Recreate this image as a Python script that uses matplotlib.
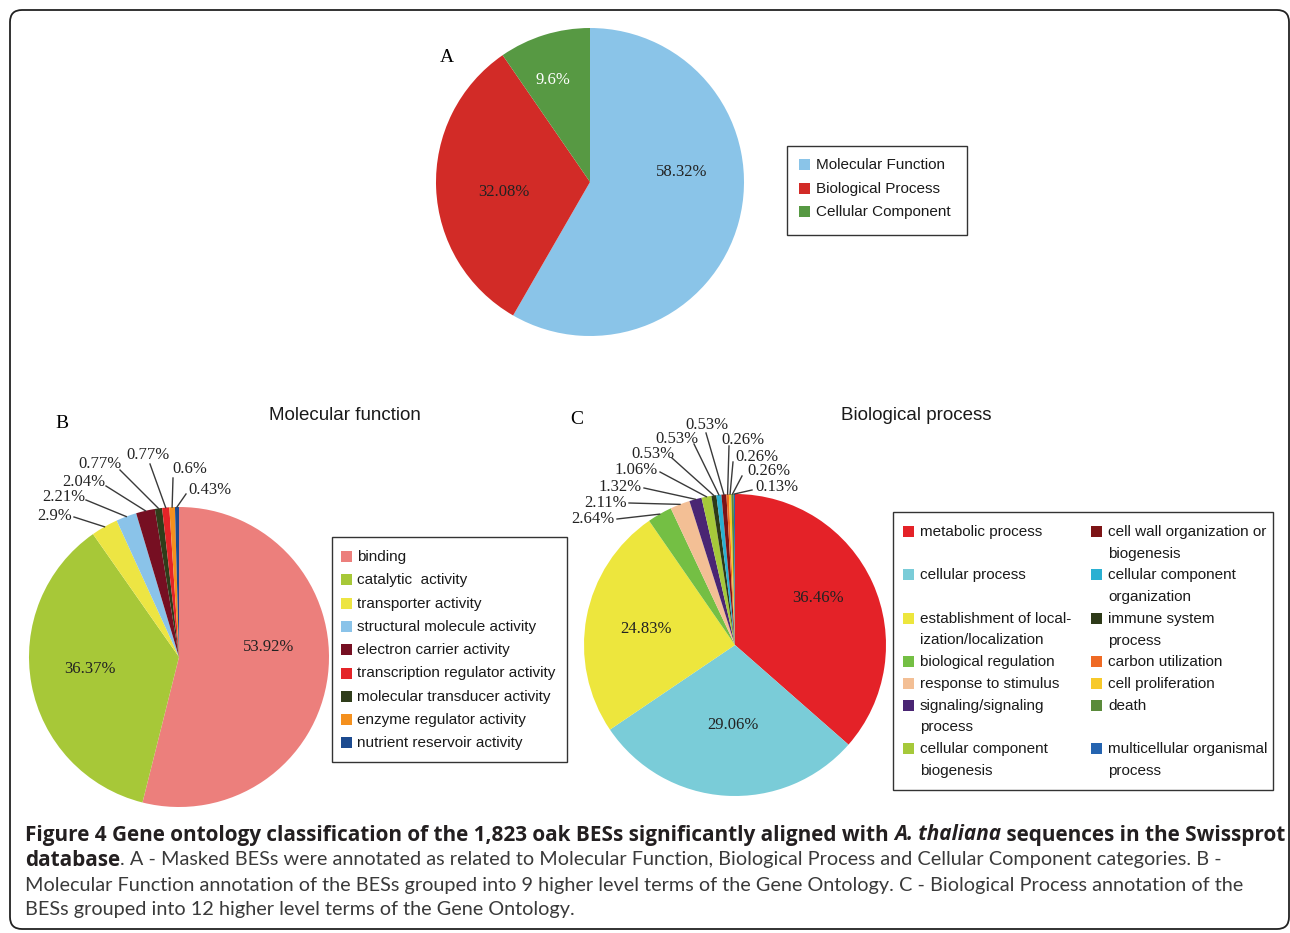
import matplotlib
matplotlib.use("Agg")
import matplotlib.pyplot as plt
from matplotlib.patches import Rectangle, FancyBboxPatch
import numpy as np

W, H = 1290, 933

# Panel A: GO top-level categories
cat_labels = ["Molecular Function", "Biological Process", "Cellular Component"]
cat_values = [58.32, 32.08, 9.6]
cat_colors = ["#8AC4E8", "#D22B27", "#579943"]

# Panel B: molecular function terms
mf_labels = ["binding", "catalytic  activity", "transporter activity",
             "structural molecule activity", "electron carrier activity",
             "transcription regulator activity", "molecular transducer activity",
             "enzyme regulator activity", "nutrient reservoir activity"]
# pie order differs from legend order for the two 0.77% slices
mf_values = [53.92, 36.37, 2.9, 2.21, 2.04, 0.77, 0.77, 0.6, 0.43]
mf_colors = ["#EC7F7C", "#A7C838", "#EDE543", "#8AC3E9", "#760F22",
             "#2F3D1A", "#E42428", "#F4901E", "#1C4A8F"]
mf_pie_names = ["binding", "catalytic  activity", "transporter activity",
                "structural molecule activity", "electron carrier activity",
                "molecular transducer activity", "transcription regulator activity",
                "enzyme regulator activity", "nutrient reservoir activity"]

# Panel C: biological process terms (pie order)
bp_labels = ["metabolic process", "cellular process",
             "establishment of local-\nization/localization",
             "biological regulation", "response to stimulus",
             "signaling/signaling\nprocess", "cellular component\nbiogenesis",
             "immune system\nprocess", "cellular component\norganization",
             "cell wall organization or\nbiogenesis",
             "carbon utilization", "cell proliferation", "death",
             "multicellular organismal\nprocess"]
bp_values = [36.46, 29.06, 24.83, 2.64, 2.11, 1.32, 1.06,
             0.53, 0.53, 0.53, 0.26, 0.26, 0.26, 0.13]
bp_colors = ["#E42228", "#7ACCD8", "#EDE63D", "#74BF44", "#F3BF95",
             "#4A2573", "#A6C93A", "#2E3A18", "#2AB0D2", "#7D1416",
             "#EF6A24", "#F7C92A", "#5A8A3A", "#2564B0"]
bp_legend_left = ["metabolic process", "cellular process",
                  "establishment of local-\nization/localization",
                  "biological regulation", "response to stimulus",
                  "signaling/signaling\nprocess", "cellular component\nbiogenesis"]
bp_legend_right = ["cell wall organization or\nbiogenesis",
                   "cellular component\norganization", "immune system\nprocess",
                   "carbon utilization", "cell proliferation", "death",
                   "multicellular organismal\nprocess"]

SERIF = "Liberation Serif"
SANS = "Liberation Sans"
CAP_BOLD = "Open Sans"
CAP_BODY = "Lato"

fig = plt.figure(figsize=(W / 100, H / 100), dpi=100)
ax = fig.add_axes([0, 0, 1, 1])


def fy(y):
    return H - y


def draw_pie(values, colors, cx, cy, r):
    wedges, _ = ax.pie(values, colors=colors, startangle=90, counterclock=False,
                       center=(cx, fy(cy)), radius=r,
                       wedgeprops=dict(linewidth=0))
    return wedges


def edge_point(w, frac=1.0):
    mid = np.deg2rad((w.theta1 + w.theta2) / 2)
    cx, cy = w.center
    return cx + w.r * frac * np.cos(mid), cy + w.r * frac * np.sin(mid)


def callouts(wedges, values, spots):
    # spots: (text x, text y, ha, line start x, line start y)
    for w, v, (tx, ty, ha, lx, ly) in zip(wedges, values, spots):
        ex, ey = edge_point(w)
        ax.plot([lx, ex], [fy(ly), ey], color="#3a3a3a", lw=1.0, zorder=1)
        ax.text(tx, fy(ty), f"{v:g}%", ha=ha, va="center", fontsize=12,
                family=SERIF, color="#222222")


def inner_labels(values, spots, color="#222222"):
    for v, (tx, ty) in zip(values, spots):
        ax.text(tx, fy(ty), f"{v:g}%", ha="center", va="center", fontsize=12,
                family=SERIF, color=color)


def legend_box(x0, y0, x1, y1):
    ax.add_patch(Rectangle((x0, fy(y1)), x1 - x0, y1 - y0, facecolor="white",
                           edgecolor="#333333", lw=1.0))


def legend_item(sx, tx, y, color, label, step=21.7):
    ax.add_patch(Rectangle((sx, fy(y) - 5), 11, 11, facecolor=color, lw=0))
    for i, line in enumerate(label.split("\n")):
        ax.text(tx, fy(y + i * step), line, ha="left", va="center",
                fontsize=11, family=SANS, color="#1a1a1a")


# ---- panel A ----
wa = draw_pie(cat_values, cat_colors, 590, 182, 154)
inner_labels(cat_values[:2], [(682, 172), (504, 192)])
inner_labels(cat_values[2:], [(553, 80)], color="white")
ax.text(447, fy(57), "A", fontsize=14, family=SERIF,
        ha="center", va="center")
legend_box(787, 146, 967, 235)
for i, (lab, col) in enumerate(zip(cat_labels, cat_colors)):
    legend_item(799, 816, 165 + i * 23.5, col, lab)

# ---- panel B ----
wb = draw_pie(mf_values, mf_colors, 179, 657, 150)
inner_labels(mf_values[:2], [(269, 647), (90, 669)])
callouts(wb[2:], mf_values[2:], [
    (72, 516, "right", 74, 517),
    (85, 497, "right", 86, 500),
    (105, 482, "right", 106, 486),
    (122, 464, "right", 120, 470),
    (148, 455, "center", 150, 464),
    (172, 469, "left", 173, 478),
    (188, 490, "left", 186, 494),
])
ax.text(62, fy(423), "B", fontsize=14, family=SERIF,
        ha="center", va="center")
ax.text(345, fy(416), "Molecular function", fontsize=13.5, family=SANS,
        ha="center", va="center", color="#1a1a1a")
legend_box(332, 537, 567, 762)
for i, lab in enumerate(mf_labels):
    col = mf_colors[mf_pie_names.index(lab)]
    legend_item(341, 357, 557 + i * 23.3, col, lab)

# ---- panel C ----
wc = draw_pie(bp_values, bp_colors, 735, 645, 151)
inner_labels(bp_values[:3], [(818, 598), (733, 725), (646, 629)])
callouts(wc[3:], bp_values[3:], [
    (615, 519, "right", 617, 519),
    (627, 503, "right", 629, 503),
    (642, 487, "right", 644, 488),
    (658, 470, "right", 660, 472),
    (675, 454, "right", 672, 458),
    (698, 439, "right", 694, 444),
    (707, 425, "center", 706, 433),
    (721, 440, "left", 729, 446),
    (735, 457, "left", 733, 462),
    (747, 471, "left", 742, 476),
    (755, 487, "left", 752, 490),
])
ax.text(577, fy(419), "C", fontsize=14, family=SERIF,
        ha="center", va="center")
ax.text(916, fy(416), "Biological process", fontsize=13.5, family=SANS,
        ha="center", va="center", color="#1a1a1a")
legend_box(893, 512, 1273, 790)
y = 532
for left, right in zip(bp_legend_left, bp_legend_right):
    legend_item(903, 920, y, bp_colors[bp_labels.index(left)], left)
    legend_item(1091, 1108, y, bp_colors[bp_labels.index(right)], right)
    y += 21.7 * max(left.count("\n"), right.count("\n")) + 21.7

# ---- caption ----
cap_lines = [
    [("Figure 4 Gene ontology classification of the 1,823 oak BESs significantly aligned with ", "bold", "normal"),
     ("A. thaliana", "bold", "italic"),
     (" sequences in the Swissprot", "bold", "normal")],
    [("database", "bold", "normal"),
     (". A - Masked BESs were annotated as related to Molecular Function, Biological Process and Cellular Component categories. B -", "normal", "normal")],
    [("Molecular Function annotation of the BESs grouped into 9 higher level terms of the Gene Ontology. C - Biological Process annotation of the", "normal", "normal")],
    [("BESs grouped into 12 higher level terms of the Gene Ontology.", "normal", "normal")],
]
cap_y = [835, 860, 885, 910]
renderer = fig.canvas.get_renderer()


def cap_family(weight):
    return CAP_BOLD if weight == "bold" else CAP_BODY


def run_width(s, size, weight, style):
    fam = cap_family(weight)
    t = ax.text(0, 0, s + "|", fontsize=size, family=fam,
                fontweight=weight, fontstyle=style)
    b = ax.text(0, 0, "|", fontsize=size, family=fam,
                fontweight=weight, fontstyle=style)
    wdt = t.get_window_extent(renderer).width - b.get_window_extent(renderer).width
    t.remove()
    b.remove()
    return wdt


ax.set_xlim(0, W)
ax.set_ylim(0, H)
ax.set_aspect("auto")
ax.axis("off")

# bold heading fills the first line; body text sized from the third line
base = 13
bold_size = base * 1255 / sum(run_width(s, base, wt, st) for s, wt, st in cap_lines[0])
body_size = base * 1219 / run_width(cap_lines[2][0][0], base, "normal", "normal")
for runs, yy in zip(cap_lines, cap_y):
    x = 25
    for s, wt, st in runs:
        sz = bold_size if wt == "bold" else body_size
        ax.text(x, fy(yy), s, fontsize=sz, family=cap_family(wt), fontweight=wt,
                fontstyle=st, ha="left", va="center",
                color="#231F20" if wt == "bold" else "#3a3a3a")
        x += run_width(s, sz, wt, st)

# outer frame
ax.add_patch(FancyBboxPatch((10, fy(929)), 1279, 919,
                            boxstyle="round,pad=0,rounding_size=12",
                            facecolor="none", edgecolor="#222222", lw=1.3,
                            clip_on=False))

fig.savefig("out.png", dpi=100, facecolor="white")
